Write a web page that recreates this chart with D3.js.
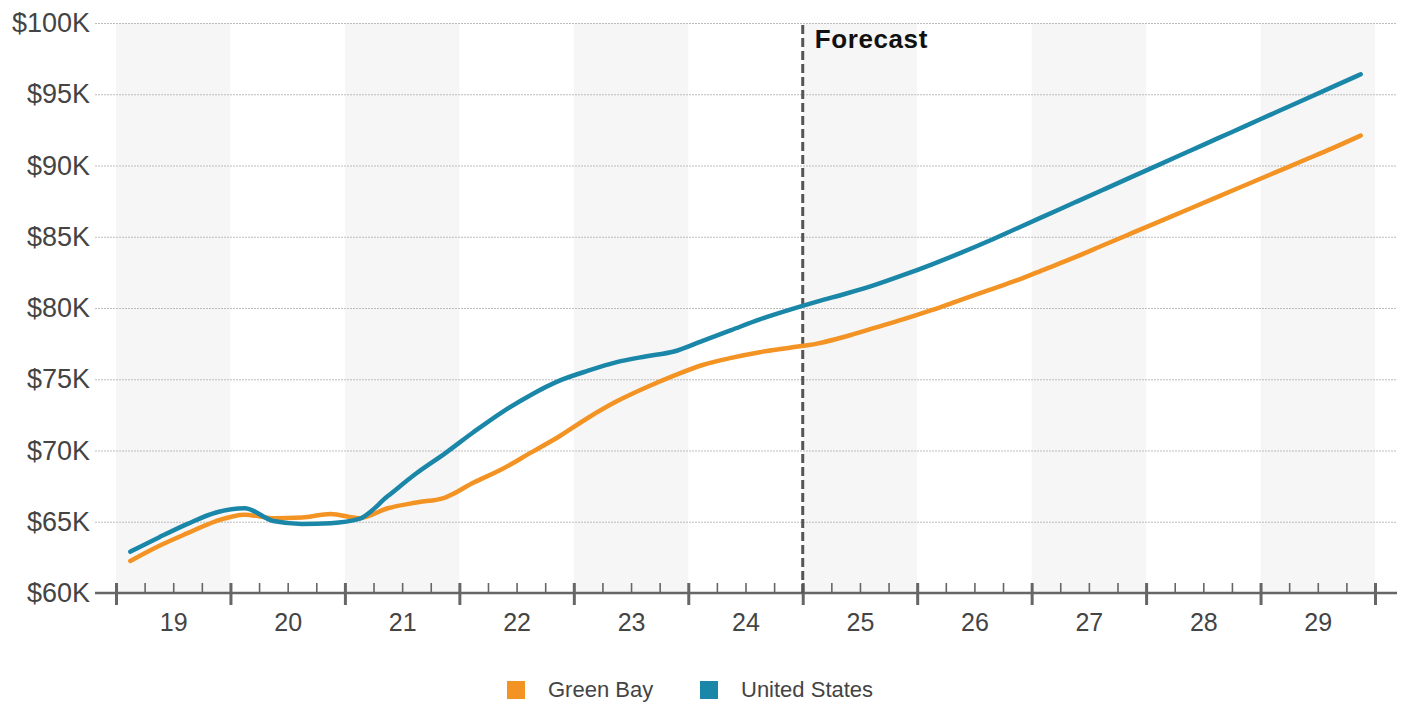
<!DOCTYPE html>
<html>
<head>
<meta charset="utf-8">
<script src="https://cdn.jsdelivr.net/npm/d3@7"></script>
<style>
  html, body { margin: 0; padding: 0; background: #fff; }
  svg { display: block; font-family: "Liberation Sans", Arial, sans-serif; }
</style>
</head>
<body>
<svg id="chart" width="1408" height="704"></svg>
<script>
// Calendar years on the axis (two-digit labels) and quarterly series.
const years = [2019, 2020, 2021, 2022, 2023, 2024, 2025, 2026, 2027, 2028, 2029];
const yearLabels = ["19", "20", "21", "22", "23", "24", "25", "26", "27", "28", "29"];
const forecastStart = 2025;
const yTicks = [60, 65, 70, 75, 80, 85, 90, 95, 100];

// Median household income, $K, one value per quarter 2019 Q1 .. 2029 Q4
const greenBay = [
  62.25, 63.3, 64.2, 65.05,
  65.5, 65.25, 65.3, 65.55,
  65.25, 65.95, 66.35, 66.7,
  67.75, 68.7, 69.85, 71.0,
  72.3, 73.45, 74.4, 75.25,
  76.0, 76.5, 76.9, 77.2,
  77.5, 78.0, 78.6, 79.2,
  79.85, 80.55, 81.25, 81.95,
  82.75, 83.55, 84.4, 85.25,
  86.1, 86.95, 87.8, 88.65,
  89.5, 90.35, 91.2, 92.1
];
const unitedStates = [
  62.9, 63.9, 64.85, 65.65,
  65.95, 65.05, 64.85, 64.9,
  65.2, 66.8, 68.4, 69.8,
  71.3, 72.7, 73.9, 74.9,
  75.6, 76.2, 76.6, 76.95,
  77.7, 78.45, 79.2, 79.85,
  80.45, 81.0, 81.6, 82.3,
  83.05, 83.85, 84.7, 85.6,
  86.5, 87.4, 88.3, 89.2,
  90.1, 91.0, 91.9, 92.8,
  93.7, 94.6, 95.5, 96.4
];

const seriesNames = ["Green Bay", "United States"];
const seriesColors = ["#f39324", "#1a87a8"];

const svg = d3.select("#chart");

const x = d3.scaleLinear().domain([2019, 2030]).range([116, 1375]);
const y = d3.scaleLinear().domain([60, 100]).range([593, 23]);
const gridLeft = 95, gridRight = 1397;

// quarter midpoints
const qx = greenBay.map((_, i) => 2019 + (i + 0.5) / 4);

// alternating year bands
svg.append("g")
  .selectAll("rect")
  .data(years.filter((d, i) => i % 2 === 0))
  .join("rect")
  .attr("x", d => x(d))
  .attr("width", d => x(d + 1) - x(d))
  .attr("y", y(100))
  .attr("height", y(60) - y(100))
  .attr("fill", "#f6f6f6");

// horizontal grid + y labels
const yAxis = d3.axisLeft(y)
  .tickValues(yTicks)
  .tickSize(0)
  .tickPadding(5)
  .tickFormat(d => "$" + d + "K");
const gy = svg.append("g").attr("transform", `translate(${gridLeft},0)`).call(yAxis);
gy.select(".domain").remove();
gy.selectAll("text")
  .attr("font-size", 27)
  .attr("font-family", "'Liberation Sans', Arial, sans-serif")
  .attr("fill", "#444");
gy.selectAll(".tick")
  .filter(d => d !== 60)
  .append("line")
  .attr("x1", 0)
  .attr("x2", gridRight - gridLeft)
  .attr("stroke", "#bdbdbd")
  .attr("stroke-width", 1)
  .attr("stroke-dasharray", "2,1");

// x axis: baseline, quarter ticks, year ticks, labels
const gx = svg.append("g").attr("transform", `translate(0,${y(60)})`);
gx.append("line")
  .attr("x1", gridLeft).attr("x2", gridRight)
  .attr("stroke", "#666").attr("stroke-width", 2.5);

const quarterTicks = d3.range(0, 44).map(i => 2019 + i / 4).filter(d => d % 1 !== 0);
const minorAxis = d3.axisTop(x).tickValues(quarterTicks).tickSize(10).tickFormat("");
const gMinor = gx.append("g").call(minorAxis);
gMinor.select(".domain").remove();
gMinor.selectAll("line").attr("stroke", "#666").attr("stroke-width", 1.6);

const majorAxis = d3.axisBottom(x).tickValues(d3.range(2019, 2031)).tickSize(12).tickFormat("");
const gMajor = gx.append("g").call(majorAxis);
gMajor.select(".domain").remove();
gMajor.selectAll("line").attr("stroke", "#666").attr("stroke-width", 3).attr("y1", -10);

const labelAxis = d3.axisBottom(x)
  .tickValues(years.map(d => d + 0.5))
  .tickSize(0)
  .tickPadding(20)
  .tickFormat((d, i) => yearLabels[i]);
const gLab = gx.append("g").call(labelAxis);
gLab.select(".domain").remove();
gLab.selectAll("text")
  .attr("font-size", 25)
  .attr("font-family", "'Liberation Sans', Arial, sans-serif")
  .attr("fill", "#444");

// forecast divider
svg.append("line")
  .attr("x1", x(forecastStart)).attr("x2", x(forecastStart))
  .attr("y1", y(100) + 2).attr("y2", y(60))
  .attr("stroke", "#555")
  .attr("stroke-width", 3)
  .attr("stroke-dasharray", "9,4");
svg.append("text")
  .attr("x", x(forecastStart) + 12)
  .attr("y", 48)
  .attr("font-size", 26)
  .attr("font-weight", "bold")
  .attr("letter-spacing", 0.6)
  .attr("fill", "#111")
  .text("Forecast");

// series lines
const line = d3.line()
  .x((d, i) => x(qx[i]))
  .y(d => y(d))
  .curve(d3.curveMonotoneX);

[greenBay, unitedStates].forEach((vals, k) => {
  svg.append("path")
    .datum(vals)
    .attr("d", line)
    .attr("fill", "none")
    .attr("stroke", seriesColors[k])
    .attr("stroke-width", 4.5)
    .attr("stroke-linejoin", "round")
    .attr("stroke-linecap", "round");
});

// legend
const legendX = [507, 700];
const legend = svg.append("g");
seriesNames.forEach((name, k) => {
  legend.append("rect")
    .attr("x", legendX[k]).attr("y", 681)
    .attr("width", 18).attr("height", 18)
    .attr("fill", seriesColors[k]);
  legend.append("text")
    .attr("x", legendX[k] + 41).attr("y", 697)
    .attr("font-size", 22)
    .attr("fill", "#444")
    .text(name);
});
</script>
</body>
</html>
